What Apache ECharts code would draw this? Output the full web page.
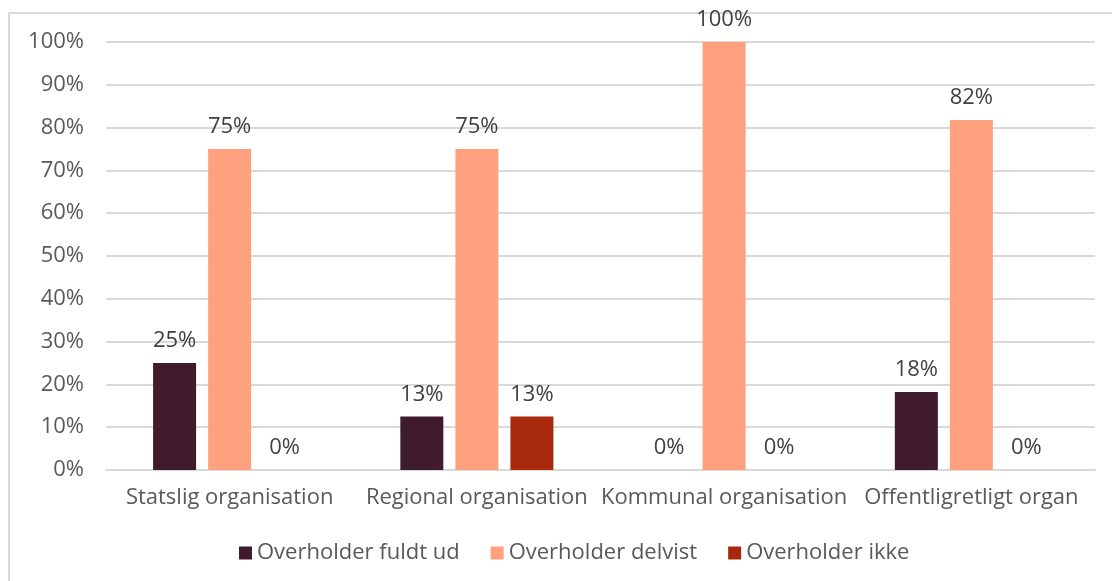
<!DOCTYPE html>
<html>
<head>
<meta charset="utf-8">
<script src="https://cdn.jsdelivr.net/npm/echarts@6/dist/echarts.min.js"></script>
<style>
html, body { margin: 0; padding: 0; background: #fff; }
#frame { position: absolute; left: 8px; top: 12px; width: 1110px; height: 600px; border: 2px solid #d9d9d9; box-sizing: border-box; }
#main { position: absolute; left: 0; top: 0; width: 1112px; height: 581px; }
</style>
</head>
<body>
<div id="frame"></div>
<div id="main"></div>
<script>
var categories = ['Statslig organisation', 'Regional organisation', 'Kommunal organisation', 'Offentligretligt organ'];
var seriesNames = ['Overholder fuldt ud', 'Overholder delvist', 'Overholder ikke'];
var fuldtUd = [25, 12.5, 0, 18.2];
var delvist = [75, 75, 100, 81.8];
var ikke = [0, 12.5, 0, 0];
var colors = ['#3f1b2b', '#ffa07f', '#a8290e'];
var yTicks = { min: 0, max: 100, interval: 10 };

var font = 'Open Sans';
var fs = 22;

function makeSeries(name, data, color) {
    return {
        name: name,
        type: 'bar',
        data: data,
        barWidth: 43,
        barGap: '28%',
        itemStyle: { color: color },
        label: {
            show: true,
            position: 'top',
            distance: 11,
            fontFamily: font,
            fontSize: fs,
            color: '#404040',
            formatter: function (p) { return Math.round(p.value) + '%'; }
        }
    };
}

option = {
    animation: false,
    grid: { left: 106, right: 17, top: 42, bottom: 111 },
    legend: {
        data: seriesNames,
        bottom: 12,
        left: 234,
        itemWidth: 13,
        itemHeight: 13,
        itemGap: 31,
        icon: 'rect',
        textStyle: { fontFamily: font, fontSize: fs, color: '#595959' }
    },
    xAxis: [
        {
            type: 'category',
            data: categories,
            axisLine: { lineStyle: { color: '#d9d9d9', width: 2 } },
            axisTick: { show: false },
            axisLabel: { fontFamily: font, fontSize: fs, color: '#595959', margin: 17, interval: 0 }
        }
    ],
    yAxis: [
        {
            type: 'value',
            min: yTicks.min,
            max: yTicks.max,
            interval: yTicks.interval,
            axisLine: { show: false },
            axisTick: { show: false },
            splitLine: { lineStyle: { color: '#d9d9d9', width: 2 } },
            axisLabel: {
                fontFamily: font, fontSize: fs, color: '#595959', margin: 22,
                formatter: '{value}%'
            }
        }
    ],
    series: [
        makeSeries(seriesNames[0], fuldtUd, colors[0]),
        makeSeries(seriesNames[1], delvist, colors[1]),
        makeSeries(seriesNames[2], ikke, colors[2])
    ]
};
var myChart = echarts.init(document.getElementById('main'));
myChart.setOption(option);
</script>
</body>
</html>
